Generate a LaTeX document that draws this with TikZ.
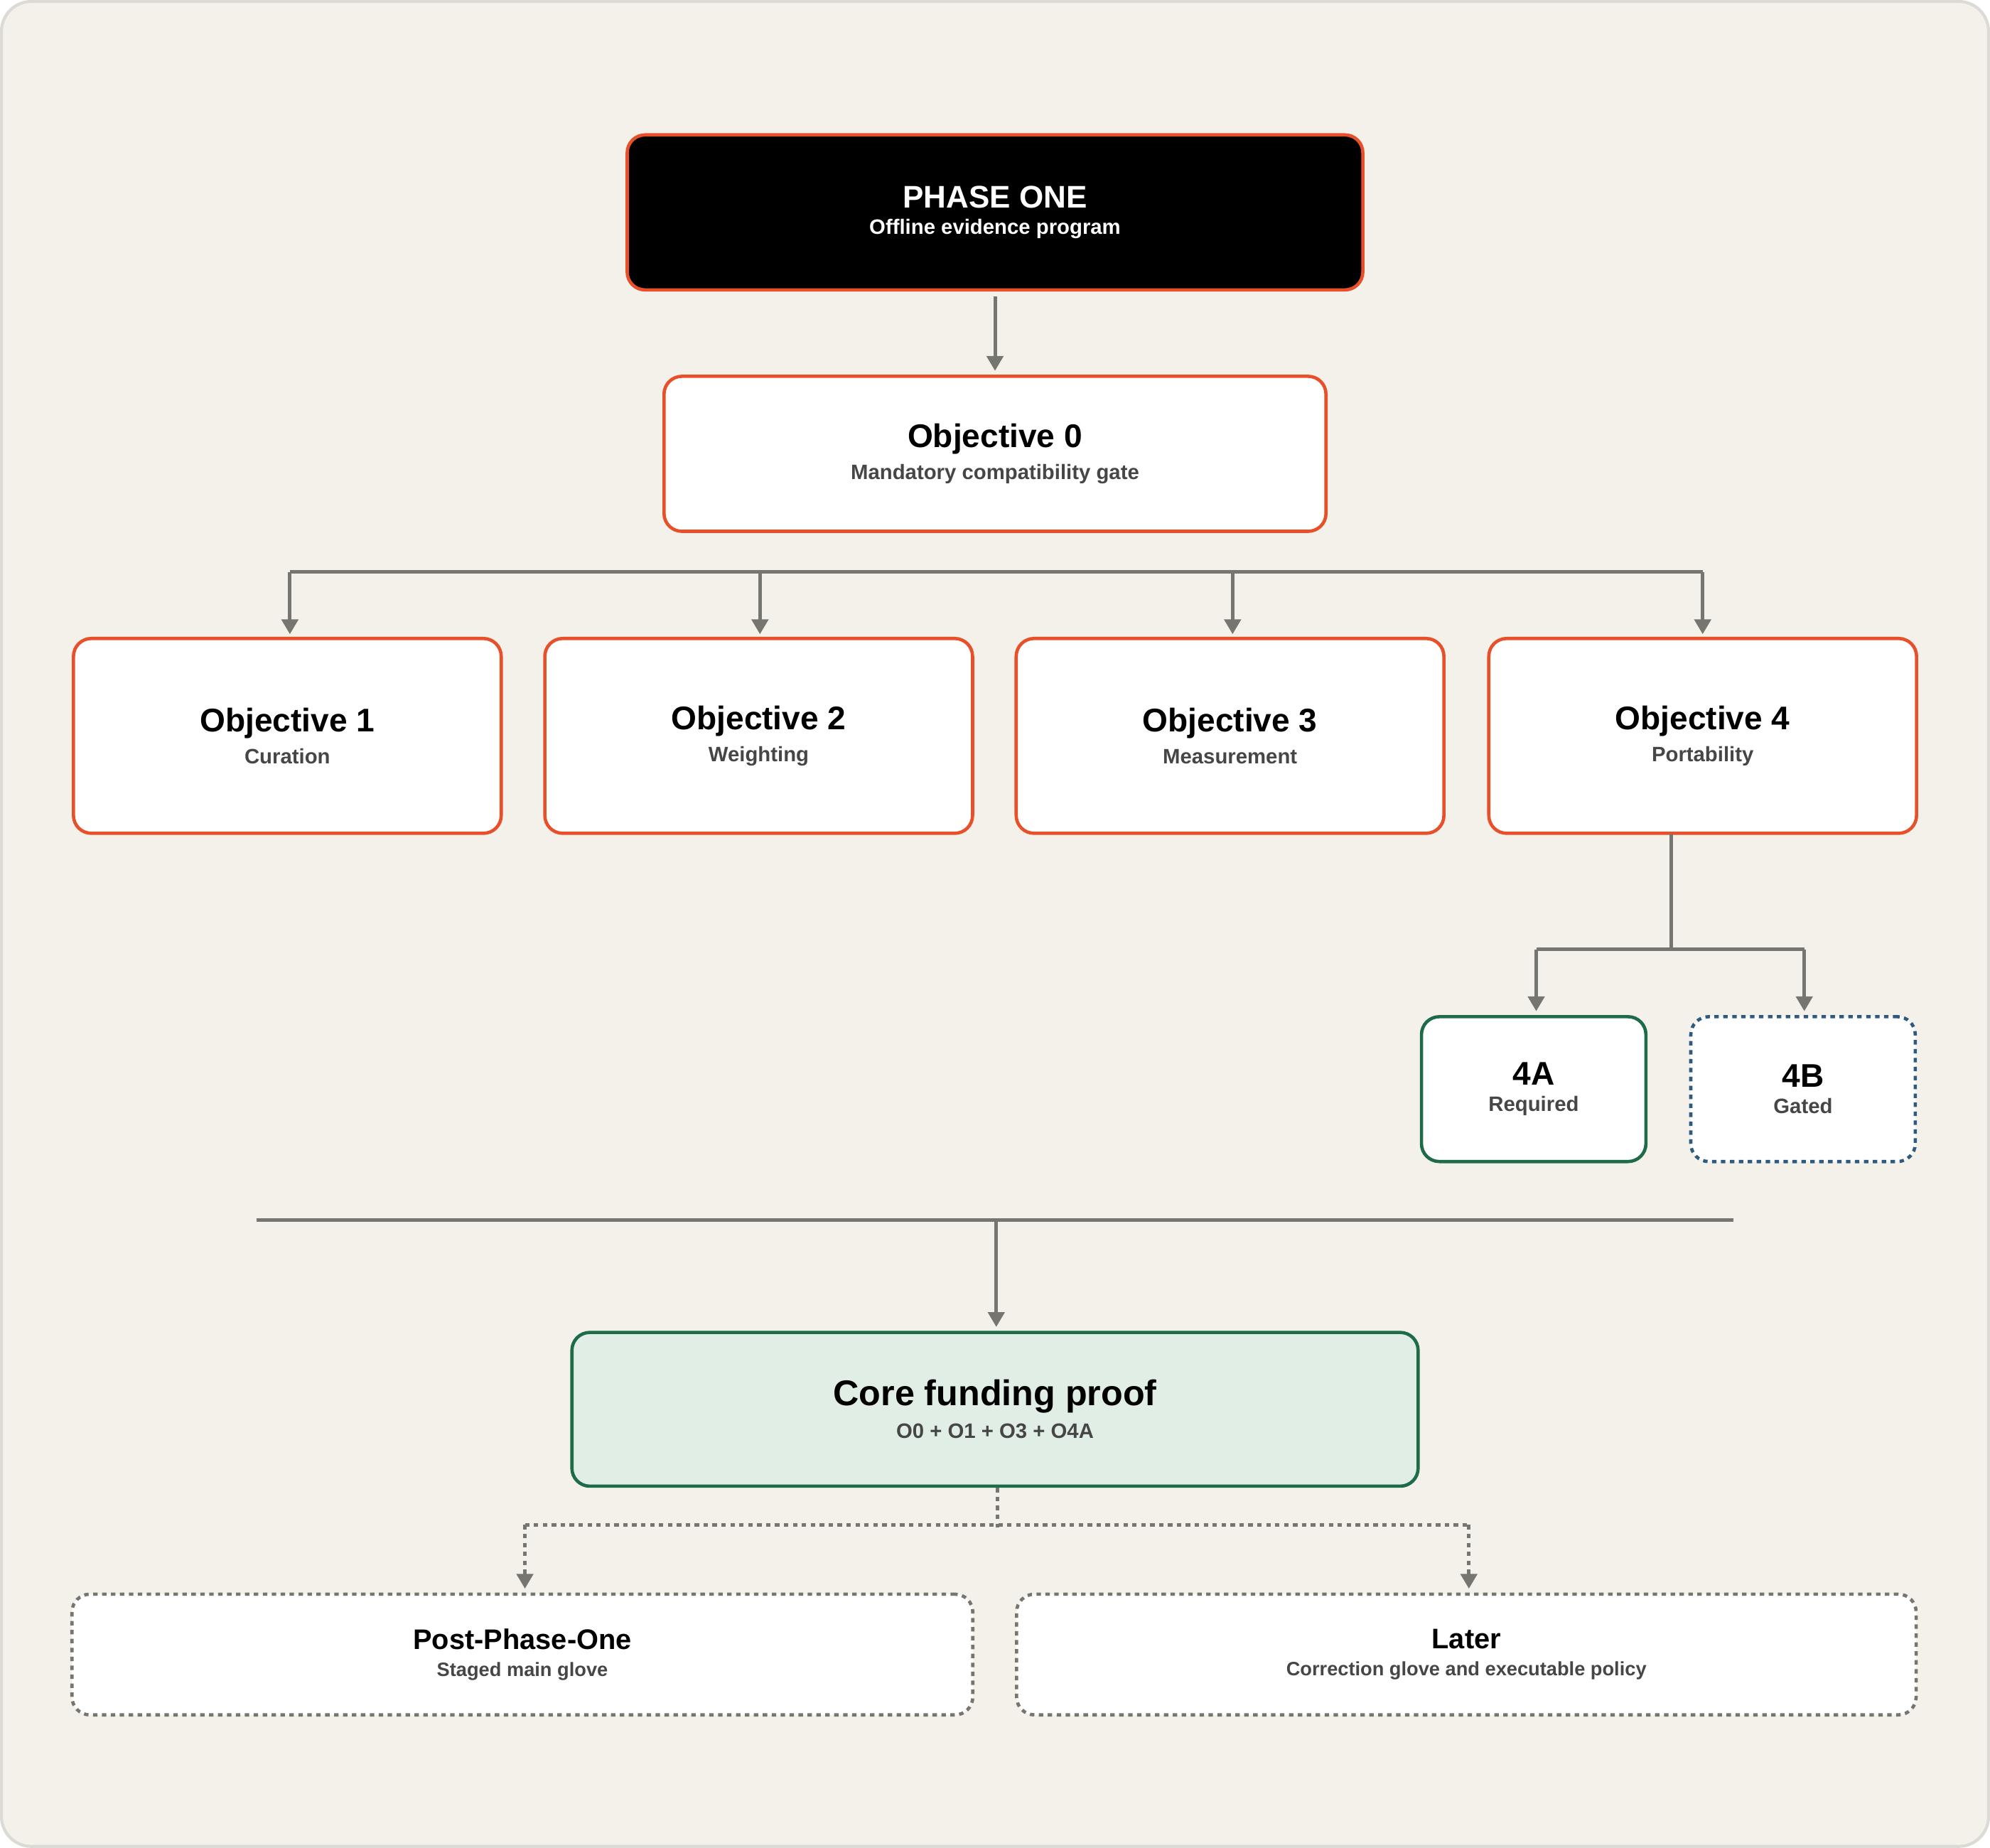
\documentclass[tikz,border=0pt]{standalone}
\usepackage{fontspec}
\setmainfont{Liberation Sans}
\usetikzlibrary{positioning,calc,arrows.meta}
\definecolor{paperBg}{RGB}{244, 241, 234}
\definecolor{paperLine}{RGB}{220, 218, 212}
\definecolor{accentOrange}{RGB}{232, 80, 42}
\definecolor{deepGreen}{RGB}{30, 107, 74}
\definecolor{softGreen}{RGB}{224, 238, 230}
\definecolor{deepBlue}{RGB}{46, 90, 128}
\definecolor{wireGray}{RGB}{118, 118, 112}
\definecolor{subText}{RGB}{70, 70, 70}
\tikzset{
  box/.style={rounded corners=12pt,line width=2.2pt,align=center,inner sep=0pt},
  objbox/.style={box,draw=accentOrange,fill=white,minimum width=10.1cm,minimum height=4.6cm},
  wire/.style={draw=wireGray,line width=2.4pt},
  arr/.style={wire,-{Triangle[length=10pt,width=11pt]}},
  title/.style={font=\fontsize{22}{26}\selectfont\bfseries},
  sub/.style={font=\fontsize{14}{17}\selectfont\bfseries\color{subText}}
}
\newcommand{\boxtext}[2]{{\fontsize{22}{26}\selectfont\bfseries #1}\\[6pt]{\fontsize{14}{17}\selectfont\bfseries\color{subText}#2}}
\begin{document}
\begin{tikzpicture}[x=0.03cm,y=-0.03cm]
  \draw[fill=paperBg,draw=paperLine,line width=2pt,rounded corners=20pt] (2,2) rectangle (1566,1454);
  % top
  \node[box,draw=accentOrange,fill=black,text=white,minimum width=17.37cm,minimum height=3.66cm] (phase) at (784,168)
    {{\fontsize{21}{25}\selectfont\bfseries PHASE ONE}\\[6pt]{\fontsize{14}{17}\selectfont\bfseries Offline evidence program}};
  \node[box,draw=accentOrange,fill=white,minimum width=15.63cm,minimum height=3.66cm] (obj0) at (784,358)
    {\boxtext{Objective 0}{Mandatory compatibility gate}};
  % objectives
  \node[objbox] (obj1) at (227,580) {\boxtext{Objective 1}{Curation}};
  \node[objbox] (obj2) at (598,580) {\boxtext{Objective 2}{Weighting}};
  \node[objbox] (obj3) at (969,580) {\boxtext{Objective 3}{Measurement}};
  \node[objbox] (obj4) at (1341,580) {\boxtext{Objective 4}{Portability}};
  % sub objectives
  \node[box,draw=deepGreen,fill=white,minimum width=5.3cm,minimum height=3.42cm] (o4a) at (1208,858) {\boxtext{4A}{Required}};
  \node[box,draw=deepBlue,dashed,fill=white,minimum width=5.3cm,minimum height=3.42cm] (o4b) at (1420,858) {\boxtext{4B}{Gated}};
  % core
  \node[box,draw=deepGreen,fill=softGreen,minimum width=19.98cm,minimum height=3.63cm] (core) at (784,1110)
    {{\fontsize{24}{28}\selectfont\bfseries Core funding proof}\\[6pt]{\fontsize{14}{17}\selectfont\bfseries\color{subText}O0 + O1 + O3 + O4A}};
  \node[box,draw=wireGray,dashed,fill=white,minimum width=21.27cm,minimum height=2.85cm] (post) at (412,1303)
    {{\fontsize{19}{23}\selectfont\bfseries Post-Phase-One}\\[6pt]{\fontsize{13}{16}\selectfont\bfseries\color{subText}Staged main glove}};
  \node[box,draw=wireGray,dashed,fill=white,minimum width=21.24cm,minimum height=2.85cm] (later) at (1155,1303)
    {{\fontsize{19}{23}\selectfont\bfseries Later}\\[6pt]{\fontsize{13}{16}\selectfont\bfseries\color{subText}Correction glove and executable policy}};
  % connectors
  \coordinate (mergeL) at (203,961);
  \coordinate (mergeR) at (1365,961);
  \draw[arr] (phase.south) ++(0,4) -- ($(obj0.north)+(0,-3)$);
  \draw[wire] (229,451) -- (1341,451);
  \foreach \n/\x in {obj1/229,obj2/599,obj3/971,obj4/1341}
    \draw[arr] (\x,451) -- (\x,500);
  \draw[wire] (1316,657) -- (1316,748);
  \draw[wire] (1210,748) -- (1421,748);
  \draw[arr] (1210,748) -- ($(o4a.north)+(2,-3)$);
  \draw[arr] (1421,748) -- ($(o4b.north)+(1,-3)$);
  \draw[wire] (mergeL) -- (mergeR);
  \draw[arr] (785,961) -- ($(core.north)+(1,-3)$);
  \draw[wire,dashed] (core.south) ++(2,0) -- ++(0,31);
  \draw[wire,dashed] (414,1201) -- (1157,1201);
  \draw[arr,dashed] (414,1201) -- ($(post.north)+(2,-3)$);
  \draw[arr,dashed] (1157,1201) -- ($(later.north)+(2,-3)$);
\end{tikzpicture}
\end{document}
